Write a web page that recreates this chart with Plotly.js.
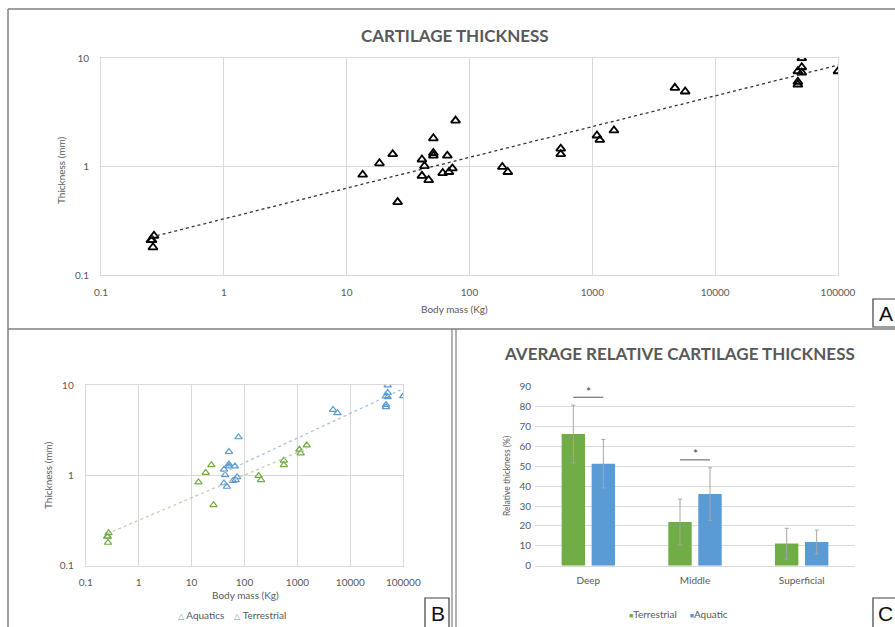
<!DOCTYPE html>
<html>
<head>
<meta charset="utf-8">
<script src="https://cdn.plot.ly/plotly-3.0.1.min.js"></script>
<style>html,body{margin:0;padding:0;background:#fff}#chart{width:895px;height:627px}</style>
</head>
<body>
<div id="chart"></div>
<script>
// ---------- DATA ----------
// Terrestrial species: body mass (kg) and cartilage thickness (mm)
const terrestrialMass = [0.26, 0.27, 0.265, 0.255, 13.5, 18.5, 23.7, 26, 185, 205, 553, 553, 1090, 1150, 1500];
const terrestrialThick = [0.21, 0.23, 0.18, 0.21, 0.84, 1.07, 1.30, 0.47, 0.99, 0.89, 1.46, 1.30, 1.93, 1.76, 2.15];
// Aquatic species
const aquaticMass = [41, 43, 41, 46.5, 50.8, 50.8, 50.8, 66, 60.5, 68, 72.6, 77, 4700, 5700, 50700, 50700, 47100, 50700, 47100, 47100, 100000];
const aquaticThick = [1.16, 1.01, 0.82, 0.75, 1.82, 1.33, 1.26, 1.26, 0.87, 0.89, 0.96, 2.65, 5.31, 4.91, 9.96, 8.22, 7.55, 7.35, 6.04, 5.70, 7.55];

const massTicks = [0.1, 1, 10, 100, 1000, 10000, 100000];
const massTickText = ['0.1', '1', '10', '100', '1000', '10000', '100000'];
const thickTicks = [0.1, 1, 10];
const thickTickText = ['0.1', '1', '10'];

// Relative thickness (panel C)
const layers = ['Deep', 'Middle', 'Superficial'];
const terrestrialRel = [66.2, 22.0, 11.1];
const terrestrialRelErr = [14.5, 11.5, 7.7];
const aquaticRel = [51.3, 36.0, 11.9];
const aquaticRelErr = [12.2, 13.2, 6.0];
const significantLayers = ['Deep', 'Middle'];

// ---------- HELPERS ----------
const W = 895, H = 627;
const px = x => x / W;
const py = y => 1 - y / H;

function powerFit(xs, ys) {
  const lx = xs.map(Math.log10), ly = ys.map(Math.log10);
  const n = lx.length;
  const mx = lx.reduce((a, b) => a + b, 0) / n, my = ly.reduce((a, b) => a + b, 0) / n;
  let sxy = 0, sxx = 0;
  for (let i = 0; i < n; i++) { sxy += (lx[i] - mx) * (ly[i] - my); sxx += (lx[i] - mx) ** 2; }
  const b = sxy / sxx, a = my - b * mx;
  const xmin = Math.min(...xs), xmax = Math.max(...xs);
  const xsFit = [], ysFit = [];
  const N = 40;
  for (let i = 0; i <= N; i++) {
    const l = Math.log10(xmin) + (Math.log10(xmax) - Math.log10(xmin)) * i / N;
    xsFit.push(Math.pow(10, l));
    ysFit.push(Math.pow(10, a + b * l));
  }
  return { x: xsFit, y: ysFit };
}

const allMass = terrestrialMass.concat(aquaticMass);
const allThick = terrestrialThick.concat(aquaticThick);
const fitAll = powerFit(allMass, allThick);
const fitTer = powerFit(terrestrialMass, terrestrialThick);
const fitAqu = powerFit(aquaticMass, aquaticThick);

const GREEN = '#70ad47', BLUE = '#5b9bd5';
const TXT = '#595959';
const GRID = '#d9d9d9';
const FONT = 'Lato, "Open Sans", sans-serif';

// ---------- TRACES ----------
const traces = [
  // Panel A
  { x: allMass, y: allThick, xaxis: 'x', yaxis: 'y', type: 'scatter', mode: 'markers', showlegend: false, name: 'All species',
    marker: { symbol: 'triangle-up-open', size: 8, color: '#000', line: { width: 1.8, color: '#222' } } },
  { x: fitAll.x, y: fitAll.y, xaxis: 'x', yaxis: 'y', type: 'scatter', mode: 'lines', showlegend: false,
    line: { color: '#333', width: 1.3, dash: 'dot' }, hoverinfo: 'skip' },
  // Panel B
  { x: aquaticMass, y: aquaticThick, xaxis: 'x2', yaxis: 'y2', type: 'scatter', mode: 'markers', name: 'Aquatics', showlegend: false,
    marker: { symbol: 'triangle-up-open', size: 6.5, color: BLUE, line: { width: 1.2, color: BLUE } } },
  { x: terrestrialMass, y: terrestrialThick, xaxis: 'x2', yaxis: 'y2', type: 'scatter', mode: 'markers', name: 'Terrestrial', showlegend: false,
    marker: { symbol: 'triangle-up-open', size: 6.5, color: GREEN, line: { width: 1.2, color: GREEN } } },
  { x: fitAqu.x, y: fitAqu.y, xaxis: 'x2', yaxis: 'y2', type: 'scatter', mode: 'lines', showlegend: false,
    line: { color: '#a9c0d8', width: 1.3, dash: 'dot' }, hoverinfo: 'skip' },
  { x: fitTer.x, y: fitTer.y, xaxis: 'x2', yaxis: 'y2', type: 'scatter', mode: 'lines', showlegend: false,
    line: { color: '#c2cfb4', width: 1.3, dash: 'dot' }, hoverinfo: 'skip' },
  // Panel C
  { x: layers, y: terrestrialRel, xaxis: 'x3', yaxis: 'y3', type: 'bar', name: 'Terrestrial', showlegend: false,
    marker: { color: GREEN },
    error_y: { type: 'data', array: terrestrialRelErr, visible: true, color: '#a6a6a6', thickness: 1, width: 2 } },
  { x: layers, y: aquaticRel, xaxis: 'x3', yaxis: 'y3', type: 'bar', name: 'Aquatic', showlegend: false,
    marker: { color: BLUE },
    error_y: { type: 'data', array: aquaticRelErr, visible: true, color: '#a6a6a6', thickness: 1, width: 2 } }
];

// ---------- LAYOUT ----------
const tickFont = { family: FONT, size: 10, color: TXT };
function logAxis(domain, range, anchor, ticks, text, extra) {
  return Object.assign({
    type: 'log', domain: domain, range: range, anchor: anchor,
    tickmode: 'array', tickvals: ticks, ticktext: text,
    showgrid: true, gridcolor: GRID, gridwidth: 1, zeroline: false,
    showline: true, mirror: true, linecolor: GRID, linewidth: 1,
    ticks: '', tickfont: tickFont, fixedrange: true
  }, extra || {});
}

const shapes = [];
const annotations = [];
const BORDER = '#7f7f7f';
function pline(x0, y0, x1, y1, w) {
  shapes.push({ type: 'line', xref: 'paper', yref: 'paper', x0: px(x0), y0: py(y0), x1: px(x1), y1: py(y1),
    line: { color: BORDER, width: w || 1.5 } });
}
pline(8, 9, 895, 9);
pline(8, 9, 8, 627);
pline(8, 329, 895, 329);
pline(452, 329, 452, 627, 1.2);
pline(456, 329, 456, 627, 1.2);

function labelBox(x0, y0, x1, y1, t) {
  shapes.push({ type: 'rect', xref: 'paper', yref: 'paper', x0: px(x0), y0: py(y0), x1: px(x1), y1: py(y1),
    line: { color: '#404040', width: 1.2 }, fillcolor: '#fff' });
  annotations.push({ xref: 'paper', yref: 'paper', x: px((x0 + x1) / 2 + 1), y: py((y0 + y1) / 2), text: t, showarrow: false,
    font: { family: '"Liberation Sans", Arial, sans-serif', size: 21, color: '#111' }, xanchor: 'center', yanchor: 'middle' });
}
labelBox(873, 299, 896, 327, 'A');
labelBox(425, 598, 449, 628, 'B');
labelBox(873, 598, 896, 628, 'C');

function txt(x, y, t, size, opts) {
  annotations.push(Object.assign({ xref: 'paper', yref: 'paper', x: px(x), y: py(y), text: t, showarrow: false,
    xanchor: 'center', yanchor: 'middle', font: { family: FONT, size: size, color: TXT } }, opts || {}));
}
txt(455, 36, '<b>CARTILAGE THICKNESS</b>', 17);
txt(455, 309, 'Body mass (Kg)', 10);
txt(61, 170, 'Thickness (mm)', 10, { textangle: -90 });
txt(245, 595, 'Body mass (Kg)', 10);
txt(48, 475, 'Thickness (mm)', 10, { textangle: -90 });
txt(679, 353, '<b>AVERAGE RELATIVE CARTILAGE THICKNESS</b>', 17);
txt(507, 476, 'Relative thickness (%)', 8.5, { textangle: -90 });

// legends (drawn as text keys)
const NB = '\u00a0';
txt(232, 615, '<span style="color:' + BLUE + ';font-size:8px">△</span>' + NB + 'Aquatics' + NB + NB + NB + NB +
  '<span style="color:' + GREEN + ';font-size:8px">△</span>' + NB + 'Terrestrial', 10);
txt(678, 614, '<span style="color:' + GREEN + ';font-size:7px">■</span>Terrestrial' + NB + NB + NB + NB + NB +
  '<span style="color:' + BLUE + ';font-size:7px">■</span>Aquatic', 10);

// significance marks (panel C)
significantLayers.forEach(layer => {
  const i = layers.indexOf(layer);
  const top = Math.max(terrestrialRel[i] + terrestrialRelErr[i], aquaticRel[i] + aquaticRelErr[i]);
  const level = top + 4;
  shapes.push({ type: 'line', xref: 'x3', yref: 'y3', x0: i - 0.14, x1: i + 0.14, y0: level, y1: level,
    line: { color: '#595959', width: 1 } });
  annotations.push({ xref: 'x3', yref: 'y3', x: i, y: level + 3, text: '*', showarrow: false,
    font: { family: FONT, size: 12, color: '#404040' } });
});

const layout = {
  width: W, height: H,
  margin: { l: 0, r: 0, t: 0, b: 0 },
  paper_bgcolor: '#fff', plot_bgcolor: '#fff',
  font: { family: FONT, color: TXT },
  showlegend: false,
  barmode: 'group', bargap: 0.4375, bargroupgap: 0.22,
  xaxis: logAxis([px(101), px(838)], [-1, 5], 'y', massTicks, massTickText, { ticklabelstandoff: 8 }),
  yaxis: logAxis([py(275), py(58)], [-1, 1], 'x', thickTicks, thickTickText, { ticklabelstandoff: 9 }),
  xaxis2: logAxis([px(85.7), px(403.3)], [-1, 5], 'y2', massTicks, massTickText, { ticklabelstandoff: 7 }),
  yaxis2: logAxis([py(565.7), py(385)], [-1, 1], 'x2', thickTicks, thickTickText, { ticklabelstandoff: 9 }),
  xaxis3: { domain: [px(535), px(855)], anchor: 'y3', type: 'category', showgrid: false, zeroline: false,
    showline: true, linecolor: GRID, ticks: '', tickfont: tickFont, ticklabelstandoff: 5, fixedrange: true },
  yaxis3: { domain: [py(565.7), py(386.7)], anchor: 'x3', range: [0, 90], dtick: 10, tick0: 0,
    showgrid: true, gridcolor: GRID, zeroline: false, showline: false, ticks: '', tickfont: tickFont,
    ticklabelstandoff: 3, fixedrange: true },
  shapes: shapes,
  annotations: annotations
};

Plotly.newPlot('chart', traces, layout, { displayModeBar: false, staticPlot: true });
</script>
</body>
</html>
